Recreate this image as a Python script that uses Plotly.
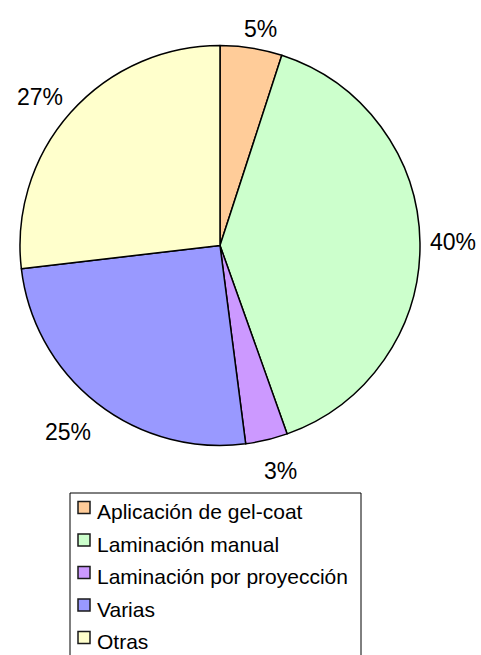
import math
import plotly.graph_objects as go

# Share of each process (percent)
categories = ["Aplicación de gel-coat", "Laminación manual", "Laminación por proyección", "Varias", "Otras"]
shares = [5.0, 39.55, 3.4, 25.2, 26.85]
slice_colors = ["#FFCC99", "#CCFFCC", "#CC99FF", "#9999FF", "#FFFFCC"]

W, H = 481, 655
cx, cy, r = 220, 245.5, 200          # pie centre and radius in pixels
FONT = "Liberation Sans, Arial"


def px(x):
    return x / W


def py(y):
    return 1 - y / H


def clamp(v):
    return max(-1.0, min(1.0, v))


fig = go.Figure(
    go.Pie(
        labels=categories,
        values=shares,
        sort=False,
        direction="clockwise",
        rotation=0,
        marker=dict(colors=slice_colors, line=dict(color="#000000", width=1.5)),
        textinfo="none",
        domain=dict(x=[px(cx - r), px(cx + r)], y=[py(cy + r), py(cy - r)]),
        hoverinfo="label+percent",
        showlegend=False,
    )
)

# Percentage labels: a text box set just outside each slice at its mid angle,
# pushed outward by half its size so that its inner corner faces the pie
total = sum(shares)
label_size = 23
gap, box_half_h, drop = 10, 15, 6
cum = 0.0
annotations = []
for v in shares:
    frac = v / total
    mid = (cum + frac / 2) * 2 * math.pi
    cum += frac
    sx, sy = math.sin(mid), -math.cos(mid)
    text = f"{frac * 100:.0f}%"
    half_w = 0.5 * label_size * (0.556 * (len(text) - 1) + 0.889)
    lx = cx + (r + gap) * sx + half_w * clamp(3 * sx)
    ly = cy + (r + gap) * sy + box_half_h * clamp(3 * sy) + drop * min(1.0, 3 * abs(sy))
    annotations.append(
        dict(
            x=px(lx), y=py(ly),
            xref="paper", yref="paper", xanchor="center", yanchor="middle",
            text=text, showarrow=False,
            font=dict(family=FONT, size=label_size, color="#000000"),
        )
    )

# Legend: framed box with a swatch and name for each category
box_left, box_top, box_right = 70, 493, 361
row_step = 32.5
shapes = [
    dict(type="rect", xref="paper", yref="paper",
         x0=px(box_left), x1=px(box_right), y0=py(box_top), y1=py(H + 20),
         line=dict(color="#000000", width=1), fillcolor="#FFFFFF", layer="below")
]
for i, (name, col) in enumerate(zip(categories, slice_colors)):
    sw_y = 507.5 + i * row_step
    shapes.append(
        dict(type="rect", xref="paper", yref="paper",
             x0=px(78), x1=px(90), y0=py(sw_y + 6), y1=py(sw_y - 6),
             line=dict(color="#1a1a1a", width=1.5), fillcolor=col)
    )
    annotations.append(
        dict(x=px(95), y=py(511.5 + i * row_step), xref="paper", yref="paper",
             xanchor="left", yanchor="middle", text=name, showarrow=False,
             font=dict(family=FONT, size=21, color="#000000"))
    )

fig.update_layout(
    width=W,
    height=H,
    margin=dict(l=0, r=0, t=0, b=0),
    paper_bgcolor="#FFFFFF",
    plot_bgcolor="#FFFFFF",
    font=dict(family=FONT, color="#000000"),
    showlegend=False,
    shapes=shapes,
    annotations=annotations,
)

fig.write_html("out.html")
